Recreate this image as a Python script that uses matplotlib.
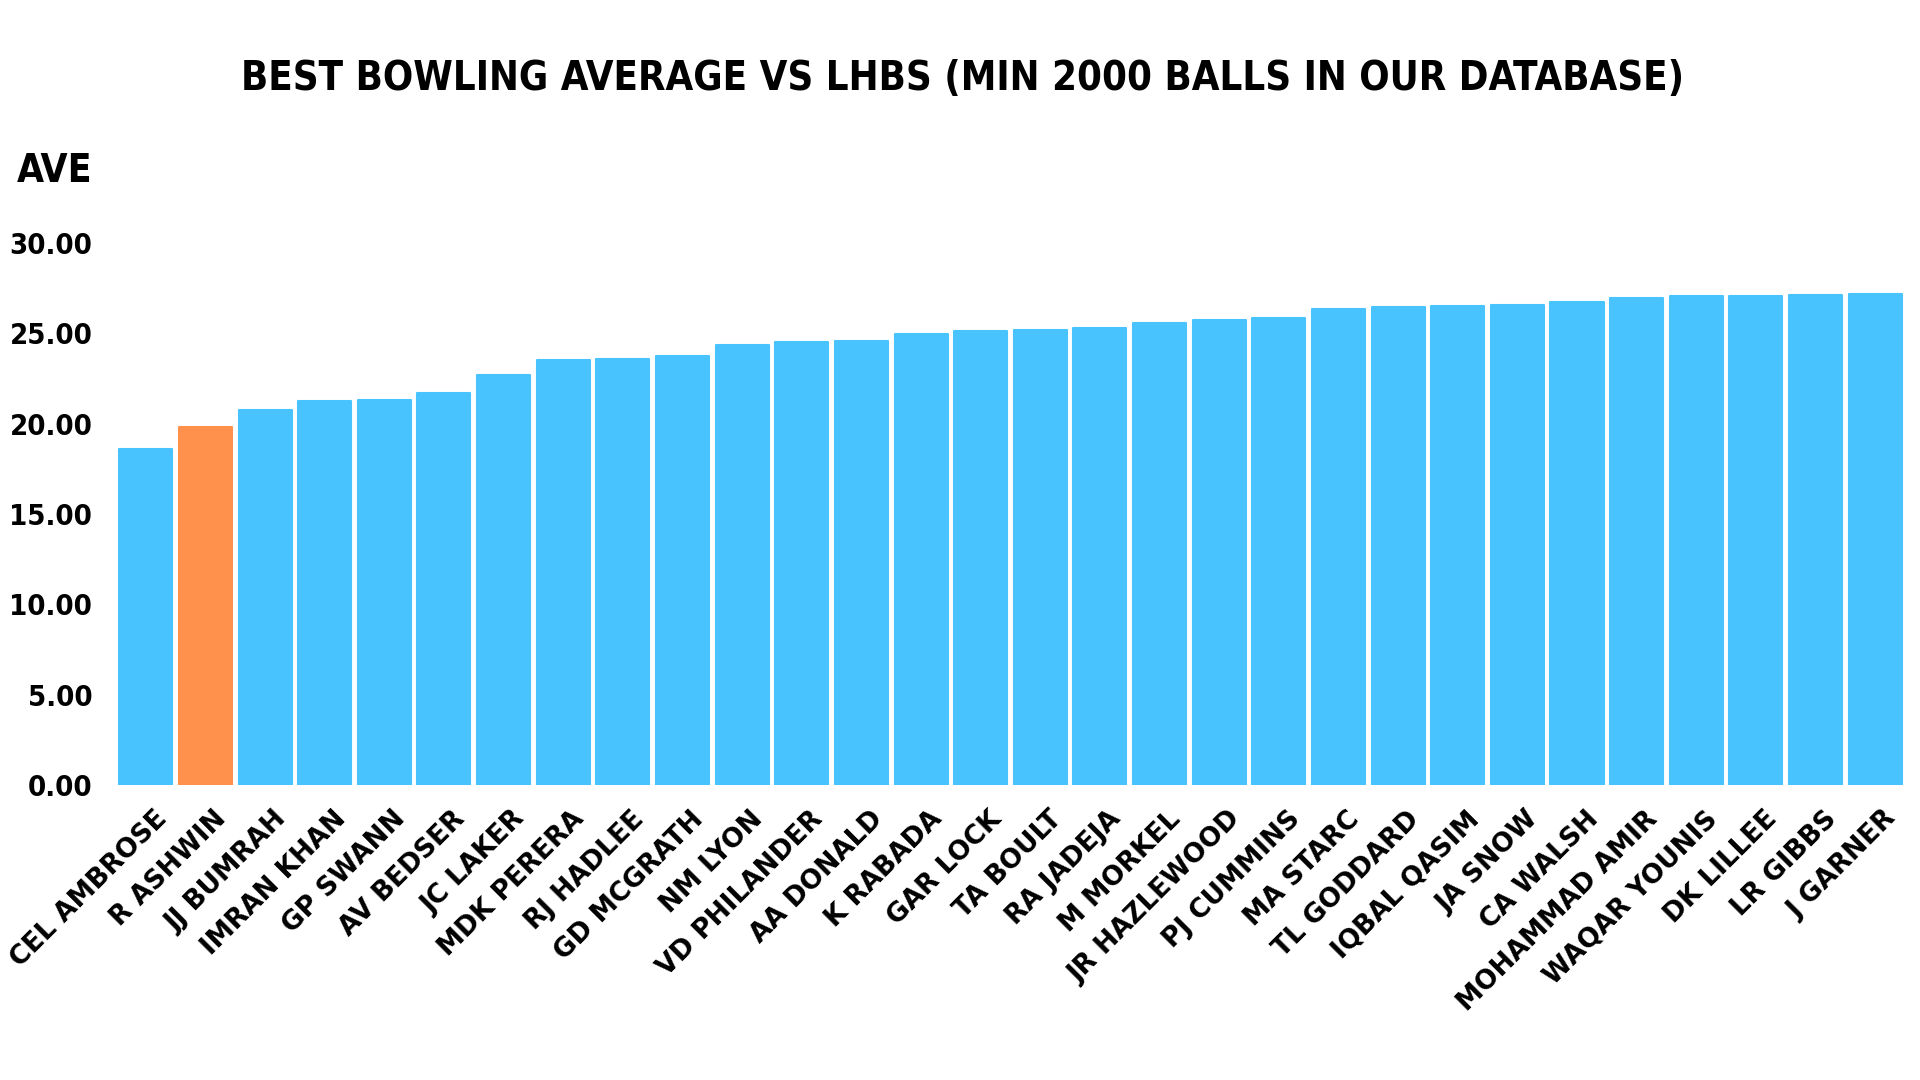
import numpy as np
import matplotlib
matplotlib.use("Agg")
import matplotlib.pyplot as plt
import matplotlib.transforms as mtransforms
from matplotlib import font_manager

players = ["CEL AMBROSE", "R ASHWIN", "JJ BUMRAH", "IMRAN KHAN", "GP SWANN",
           "AV BEDSER", "JC LAKER", "MDK PERERA", "RJ HADLEE", "GD MCGRATH",
           "NM LYON", "VD PHILANDER", "AA DONALD", "K RABADA", "GAR LOCK",
           "TA BOULT", "RA JADEJA", "M MORKEL", "JR HAZLEWOOD", "PJ CUMMINS",
           "MA STARC", "TL GODDARD", "IQBAL QASIM", "JA SNOW", "CA WALSH",
           "MOHAMMAD AMIR", "WAQAR YOUNIS", "DK LILLEE", "LR GIBBS", "J GARNER"]
averages = [18.58, 19.79, 20.77, 21.25, 21.31, 21.69, 22.69, 23.52, 23.56, 23.74,
            24.35, 24.53, 24.57, 24.98, 25.12, 25.16, 25.29, 25.55, 25.73, 25.84,
            26.34, 26.45, 26.50, 26.58, 26.73, 26.93, 27.06, 27.07, 27.12, 27.19]
highlight = "R ASHWIN"
yticks = [0, 5, 10, 15, 20, 25, 30]

blue = "#49C3FD"
orange = "#FF914D"

# use a condensed bold face if one is installed, else plain DejaVu Sans
cond = [f for f in font_manager.fontManager.ttflist
        if f.name == "DejaVu Sans" and "ondensed" in f.fname and "Bold" in f.fname
        and "Oblique" not in f.fname]
if cond:
    narrow = dict(fontproperties=font_manager.FontProperties(fname=cond[0].fname))
    scale = 1.0
else:
    narrow = dict(family="DejaVu Sans", fontweight="bold")
    scale = 0.85

fig = plt.figure(figsize=(19.2, 10.8), dpi=100)
ax = fig.add_axes([0.0604, 0.2731, 0.9318, 0.5019])

x = np.arange(len(players))
colors = [orange if p == highlight else blue for p in players]
ax.bar(x, averages, width=0.89, color=colors, edgecolor=colors,
       linewidth=1.5, joinstyle="round")

ax.set_xlim(-0.5, len(players) - 0.5)
ax.set_ylim(0, 30)
ax.set_yticks(yticks)
ax.set_yticklabels([f"{v:.2f}" for v in yticks])
for t in ax.get_yticklabels():
    if "fontproperties" in narrow:
        t.set_fontproperties(narrow["fontproperties"])
    else:
        t.set_fontweight("bold")
    t.set_fontsize(21 * scale)
ax.tick_params(axis="y", length=0, pad=17)
ax.tick_params(axis="x", length=0, pad=8)
for s in ax.spines.values():
    s.set_visible(False)

# names drawn under each bar, anchored a little right of the bar centre
trans = ax.get_xaxis_transform() + mtransforms.ScaledTranslation(0.08, -0.21, fig.dpi_scale_trans)
ax.set_xticks(x)
ax.set_xticklabels([])
for xi, name in zip(x, players):
    ax.text(xi, 0, name, transform=trans, rotation=45, ha="right", va="top",
            rotation_mode="anchor", fontweight="bold", fontsize=19)

title = fig.text(0.5015, 0.927,
                 "BEST BOWLING AVERAGE VS LHBS (MIN 2000 BALLS IN OUR DATABASE)",
                 ha="center", va="center", **narrow)
title.set_fontsize(28.7 * scale)
ave = fig.text(0.009, 0.842, "AVE", ha="left", va="center", **narrow)
ave.set_fontsize(28 * scale)

fig.savefig("out.png", dpi=100, facecolor="white")
